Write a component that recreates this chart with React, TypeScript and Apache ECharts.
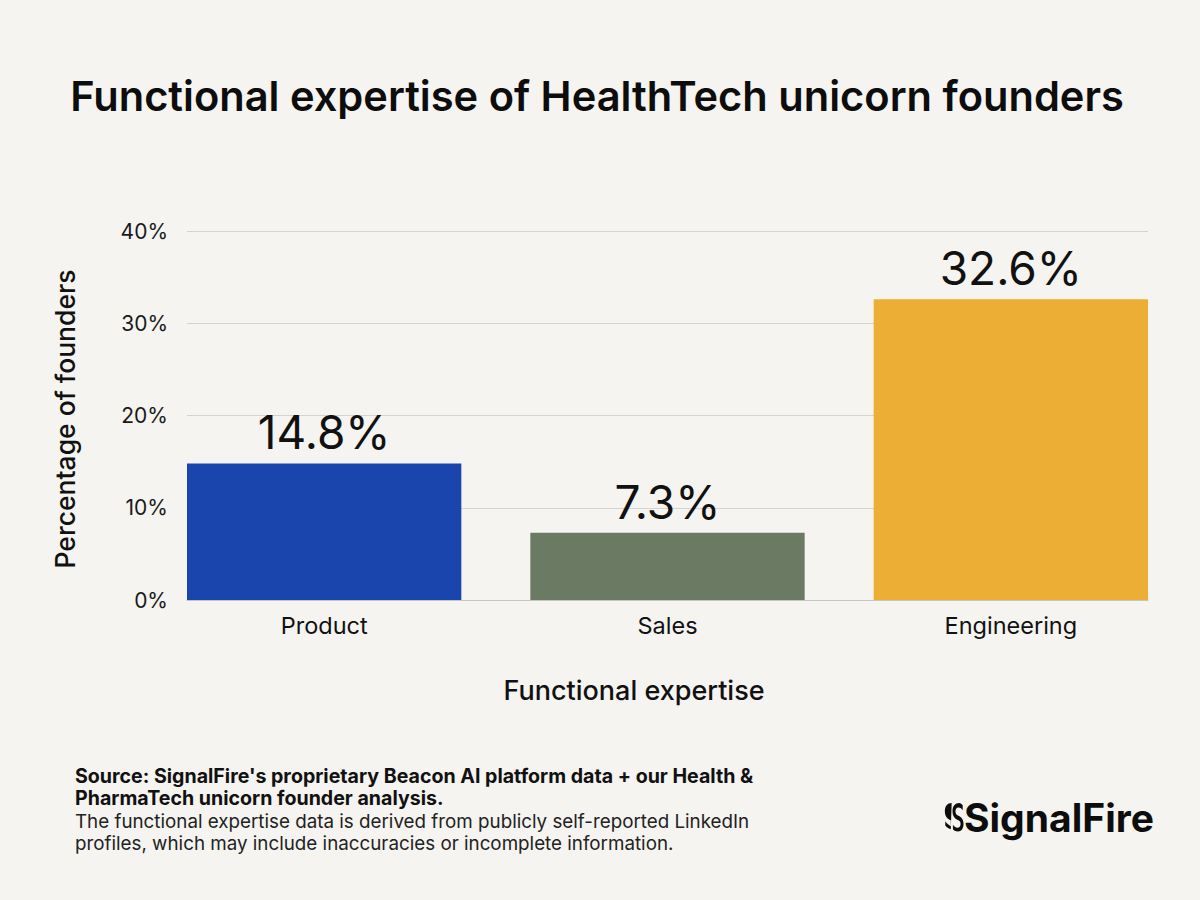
import React, { useEffect, useRef } from "react";
import * as echarts from "echarts";

const categories = ["Product", "Sales", "Engineering"];
const values = [14.8, 7.3, 32.6];
const barColors = ["#1a45ad", "#6b7a63", "#edae35"];
const yTicks = [0, 10, 20, 30, 40];

const titleText = "Functional expertise of HealthTech unicorn founders";
const xName = "Functional expertise";
const yName = "Percentage of founders";
const sourceLines = [
  "Source: SignalFire's proprietary Beacon AI platform data + our Health &",
  "PharmaTech unicorn founder analysis.",
];
const noteLines = [
  "The functional expertise data is derived from publicly self-reported LinkedIn",
  "profiles, which may include inaccuracies or incomplete information.",
];

const FONT = "Inter, 'Noto Sans', sans-serif";
const NOTE_FONT = "Inter, 'Noto Sans', sans-serif";

let iconRegistered = false;

export default function App() {
  const ref = useRef<HTMLDivElement>(null);
  useEffect(() => {
    document.body.style.margin = "0";
    if (!ref.current) return;
    if (!iconRegistered) {
      (echarts.graphic as any).registerShape(
        "sfIcon",
        (echarts.graphic as any).extendPath(
          "M9 2 C4 2 1 4 1 7.5 C1 11 4 12.5 8 13.5 L8 17.5 C6 16.8 3.5 15.8 1.5 14.2 L1.5 17 C3.5 18.5 6 19.2 8 19.5 Z M18 2 C13 2 10 4 10 7.5 C10 11 13 12.5 17 13.5 C19 14 19.5 15 19.5 16 C19.5 17.5 18 18.5 16 18.5 C13.5 18.5 11.5 17.5 10.5 16.5 L10.5 19.5 C12 20.5 14 21 16.5 21 C20.5 21 23 19 23 16 C23 13 20.5 11.5 17 10.5 C14.5 9.8 13.5 9 13.5 7.5 C13.5 6 15 5 17 5 C19 5 21 5.8 22 6.8 L22 3.5 C21 2.7 19.5 2 18 2 Z",
          {}
        )
      );
      iconRegistered = true;
    }
    const chart = echarts.init(ref.current, null, { renderer: "svg" });
    const yMax = yTicks[yTicks.length - 1];
    const option: any = {
      animation: false,
      backgroundColor: "#f5f4f0",
      textStyle: { fontFamily: FONT },
      title: {
        text: titleText,
        left: 592,
        top: 70,
        textAlign: "center",
        textStyle: { fontFamily: FONT, fontSize: 41.6, fontWeight: 600, color: "#0d0d0d" },
      },
      grid: [
        { left: 187, right: 52, top: 231, bottom: 300 },
        { left: 152.5, right: 17.5, top: 231, bottom: 300 },
      ],
      xAxis: [
        {
          type: "category",
          gridIndex: 0,
          data: categories,
          axisLine: { show: true, lineStyle: { color: "#c4c4c0", width: 1 } },
          axisTick: { show: false },
          axisLabel: { show: false },
        },
        {
          type: "category",
          gridIndex: 1,
          data: categories,
          axisLine: { show: false },
          axisTick: { show: false },
          axisLabel: { fontFamily: FONT, fontSize: 23.5, color: "#111", margin: 13 },
        },
      ],
      yAxis: [
        {
          type: "value",
          gridIndex: 0,
          min: 0,
          max: yMax,
          interval: 10,
          axisLine: { show: false },
          axisTick: { show: false },
          axisLabel: {
            fontFamily: FONT,
            fontSize: 21,
            color: "#1a1a1a",
            margin: 19,
            formatter: (v: number) => `${v}%`,
          },
          splitLine: { lineStyle: { color: "#d3d3cf", width: 1 } },
        },
        {
          type: "value",
          gridIndex: 1,
          min: 0,
          max: yMax,
          interval: 10,
          show: false,
          splitLine: { show: false },
        },
      ],
      series: [
        {
          type: "bar",
          xAxisIndex: 1,
          yAxisIndex: 1,
          barCategoryGap: "20.1%",
          data: values.map((v, i) => ({ value: v, itemStyle: { color: barColors[i] } })),
          label: {
            show: true,
            position: "top",
            distance: 8,
            fontFamily: FONT,
            fontSize: 46,
            fontWeight: 400,
            color: "#111",
            formatter: (p: any) => `${p.value}%`,
          },
          z: 3,
        },
      ],
      graphic: [
        {
          type: "text",
          x: 65,
          y: 419,
          rotation: Math.PI / 2,
          style: {
            text: yName,
            fontFamily: FONT,
            fontSize: 26.5,
            fontWeight: 500,
            fill: "#111",
            align: "center",
            verticalAlign: "middle",
          },
        },
        {
          type: "text",
          x: 634,
          y: 690,
          style: {
            text: xName,
            fontFamily: FONT,
            fontSize: 27,
            fontWeight: 500,
            fill: "#111",
            align: "center",
            verticalAlign: "middle",
          },
        },
        ...sourceLines.map((t, i) => ({
          type: "text",
          x: 75,
          y: 775.5 + i * 22.5,
          style: {
            text: t,
            fontFamily: NOTE_FONT,
            fontSize: 19.6,
            fontWeight: 700,
            fill: "#111",
            align: "left",
            verticalAlign: "middle",
          },
        })),
        ...noteLines.map((t, i) => ({
          type: "text",
          x: 75,
          y: 821 + i * 22.5,
          style: {
            text: t,
            fontFamily: NOTE_FONT,
            fontSize: 18.8,
            fontWeight: 400,
            fill: "#222",
            align: "left",
            verticalAlign: "middle",
          },
        })),
        {
          type: "sfIcon",
          x: 944,
          y: 800,
          scaleX: 0.85,
          scaleY: 1.5,
          style: { fill: "#0d0d0d" },
        },
        {
          type: "text",
          x: 964,
          y: 817,
          style: {
            text: "SignalFire",
            fontFamily: FONT,
            fontSize: 39,
            fontWeight: 700,
            fill: "#0d0d0d",
            align: "left",
            verticalAlign: "middle",
          },
        },
      ],
    };
    chart.setOption(option);
    return () => chart.dispose();
  }, []);
  return <div ref={ref} style={{ width: 1200, height: 900 }} />;
}
